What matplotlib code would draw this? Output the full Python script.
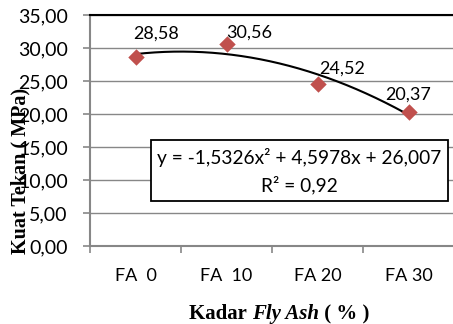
import numpy as np
import matplotlib
matplotlib.use("Agg")
import matplotlib.pyplot as plt
from matplotlib.patches import Rectangle

categories = ["FA  0", "FA  10", "FA 20", "FA 30"]
values = [28.58, 30.56, 24.52, 20.37]
value_labels = ["28,58", "30,56", "24,52", "20,37"]
equation = "y = -1,5326x² + 4,5978x + 26,007"
r2_text = "R² = 0,92"
yticks = [0, 5, 10, 15, 20, 25, 30, 35]
ylabel = "Kuat Tekan ( MPa)"
xlabel_parts = [("Kadar ", "normal"), ("Fly Ash", "italic"), (" ( % )", "normal")]

SANS = ["Lato", "DejaVu Sans"]
SERIF = ["Liberation Serif", "DejaVu Serif"]
GRAY = "#878787"

fig = plt.figure(figsize=(4.53, 3.24), dpi=100)
ax = fig.add_axes([90/453, 78/324, 364/453, 231/324])

x = np.arange(1, len(values) + 1)
ax.set_xlim(0.5, len(values) + 0.5)
ax.set_ylim(0, 35)

for yv in yticks:
    ax.axhline(yv, color=GRAY, lw=1.0, zorder=1)

coef = np.polyfit(x, values, 2)
xs = np.linspace(1, len(values), 200)
ax.plot(xs, np.polyval(coef, xs), color="black", lw=1.5, zorder=3)

ax.scatter(x, values, marker="D", s=70, color="#C0504D", zorder=4, linewidths=0)

offsets = [(-1.5, 17, "left"), (0, 8.6, "left"), (1, 11.5, "left"), (0, 12.2, "center")]
for xi, v, lab, (dx, dy, ha) in zip(x, values, value_labels, offsets):
    ax.annotate(lab, (xi, v), xytext=(dx, dy), textcoords="offset points",
                ha=ha, va="center", fontsize=13, family=SANS, zorder=5)

# equation box
rect = Rectangle((1.17, 6.8), 3.26, 9.25, facecolor="white", edgecolor="black",
                 lw=1.3, zorder=6)
ax.add_patch(rect)
ax.text(2.8, 13.4, equation, ha="center", va="center", fontsize=13.8,
        family=SANS, zorder=7)
ax.text(2.8, 9.3, r2_text, ha="center", va="center", fontsize=13.8,
        family=SANS, zorder=7)

ax.set_yticks(yticks)
ax.set_yticklabels([f"{v:.2f}".replace(".", ",") for v in yticks],
                   fontsize=14, family=SANS)
ax.set_xticks(x)
ax.set_xticklabels(categories, fontsize=13, family=SANS)
ax.set_xticks(np.arange(0.5, len(values) + 1, 1), minor=True)
ax.tick_params(axis="x", which="major", length=0, pad=16)
ax.tick_params(axis="x", which="minor", length=5, color=GRAY, width=1.2)
ax.tick_params(axis="y", length=5, color=GRAY, width=1.2, pad=11)

for s in ["left", "bottom"]:
    ax.spines[s].set_color(GRAY)
    ax.spines[s].set_linewidth(1.5)
ax.spines["top"].set_color("black")
ax.spines["top"].set_linewidth(1.5)
ax.spines["right"].set_visible(False)

fig.text(20/453, 1 - 171/324, ylabel, rotation=90, ha="center",
         va="center", fontsize=14.5, fontweight="bold", family=SERIF, zorder=10)

# x label built from pieces (normal + italic)
renderer = fig.canvas.get_renderer()
pieces = []
total = 0.0
for txt, style in xlabel_parts:
    t = fig.text(0, 0, txt, fontsize=15, fontweight="bold", fontstyle=style,
                 family=SERIF, va="center", ha="left")
    w = t.get_window_extent(renderer).width
    pieces.append((t, w))
    total += w
xpos = 279 - total / 2
for t, w in pieces:
    t.set_position((xpos / 453, 1 - 314 / 324))
    xpos += w

fig.savefig("out.png", dpi=100)
